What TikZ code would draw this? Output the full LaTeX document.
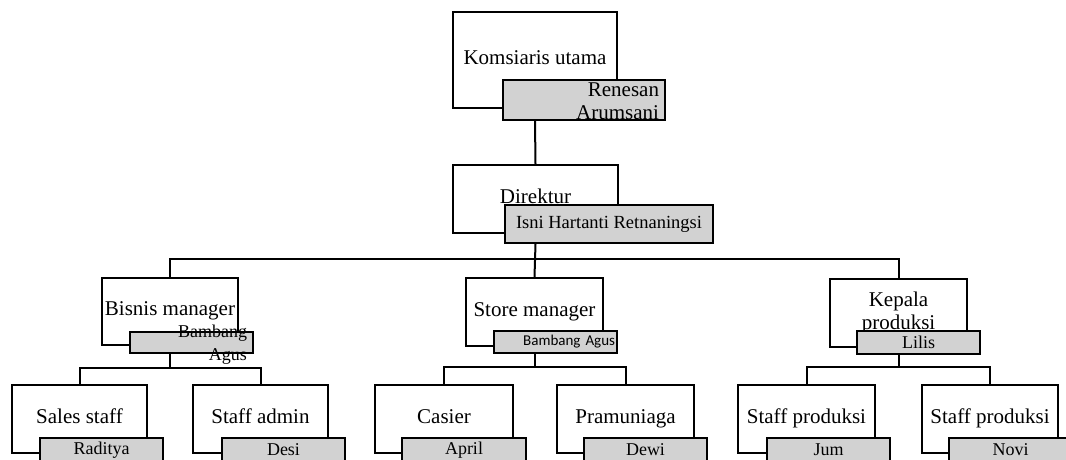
\documentclass[tikz,border=0pt]{standalone}
\usepackage{fontspec}
\setmainfont{Liberation Serif}
\newfontfamily\namesans{Carlito}

\definecolor{namegray}{RGB}{210,210,210}

\begin{document}
\begin{tikzpicture}[
    x=1pt, y=-1pt,
    line width=2pt,
    posbox/.style={draw, fill=white, align=center, inner sep=1pt, text depth=5pt, font=\fontsize{21}{23}\selectfont},
    namebox/.style={draw, fill=namegray, inner sep=0pt, minimum width=123pt, minimum height=23pt, font=\fontsize{18}{20}\selectfont},
    nametext/.style={inner sep=0pt, align=right, anchor=east}
]
\useasboundingbox (0,0) rectangle (1066,460);

% jabatan
\node (kom) at (535,60)     [posbox, minimum width=164pt, minimum height=96pt] {Komsiaris utama};
\node (komN) at (584,100)   [namebox, minimum width=162pt, minimum height=40pt] {};
\node (komT) at (660,101)   [nametext, font=\fontsize{21}{23}\selectfont] {Renesan\\Arumsani};

\node (dir) at (535.5,199)  [posbox, minimum width=165pt, minimum height=68pt] {Direktur};
\node (dirN) at (609,224)   [namebox, minimum width=208pt, minimum height=38pt, font=\fontsize{18.5}{20}\selectfont] {Isni Hartanti Retnaningsi};

\node (bis) at (170,311.5)  [posbox, minimum width=136pt, minimum height=67pt] {Bisnis manager};
\node (bisN) at (191.5,342.5) [namebox, minimum height=21pt] {};
\node (bisT) at (248,345)   [nametext, font=\fontsize{18}{23}\selectfont] {Bambang\\Agus};

\node (sto) at (534.5,312)  [posbox, minimum width=137pt, minimum height=68pt] {Store manager};
\node (stoN) at (555.5,342) [namebox, minimum height=22pt, text width=119pt, align=right, font=\namesans\fontsize{15}{17}\selectfont] {Bambang Agus};

\node (kep) at (898.5,313)  [posbox, minimum width=137pt, minimum height=68pt] {Kepala\\produksi};
\node (kepN) at (918.5,342.5) [namebox] {Lilis};

% staff
\node (sal) at (79.5,419)   [posbox, minimum width=135pt, minimum height=68pt] {Sales staff};
\node (salN) at (101.5,450) [namebox, minimum height=24pt] {Raditya};
\node (adm) at (260.5,419)  [posbox, minimum width=135pt, minimum height=68pt] {Staff admin};
\node (admN) at (283.5,450) [namebox, minimum height=24pt] {Desi};

\node (cas) at (444,419)    [posbox, minimum width=138pt, minimum height=68pt] {Casier};
\node (casN) at (464,450)   [namebox, minimum width=124pt, minimum height=24pt] {April};
\node (pra) at (625.5,419)  [posbox, minimum width=137pt, minimum height=68pt] {Pramuniaga};
\node (praN) at (645.5,450) [namebox, minimum height=24pt] {Dewi};

\node (sp1) at (806.5,419)  [posbox, minimum width=137pt, minimum height=68pt] {Staff produksi};
\node (sp1N) at (828.5,450) [namebox, minimum height=24pt] {Jum};
\node (sp2) at (990,419)    [posbox, minimum width=136pt, minimum height=68pt] {Staff produksi};
\node (sp2N) at (1010.5,450) [namebox, minimum height=24pt] {Novi};

% garis
\coordinate (bus)  at (535,259);
\coordinate (bisB) at (170,368);
\coordinate (stoB) at (534.5,367);
\coordinate (kepB) at (898.5,367);

\draw (kom.south |- komN.south) -- (dir.north);
\draw (dir.south |- dirN.south) -- (sto.north);
\draw (bis.north) |- (bus) -| (kep.north);

\draw (bis.south |- bisN.south) -- (bisB);
\draw (sal.north) |- (bisB) -| (adm.north);
\draw (sto.south |- stoN.south) -- (stoB);
\draw (cas.north) |- (stoB) -| (pra.north);
\draw (kep.south |- kepN.south) -- (kepB);
\draw (sp1.north) |- (kepB) -| (sp2.north);
\end{tikzpicture}
\end{document}
